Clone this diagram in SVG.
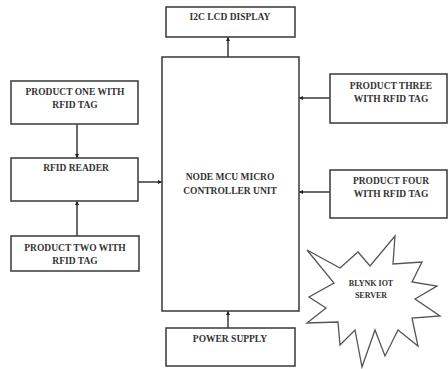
<svg xmlns="http://www.w3.org/2000/svg" width="448" height="369" viewBox="0 0 448 369">
<style>
.box{fill:#fff;stroke:#444;stroke-width:1.6}
.t{font-family:"Liberation Serif","Times New Roman",serif;font-weight:bold;font-size:9.5px;fill:#333;text-anchor:middle}
.c{stroke:#444;stroke-width:1.6;fill:none;marker-end:url(#ah)}
</style>
<defs>
<marker id="ah" viewBox="0 0 6 6" refX="6" refY="3" markerWidth="4" markerHeight="4" orient="auto" markerUnits="userSpaceOnUse">
<path d="M0,0 L6,3 L0,6 z" fill="#222"/>
</marker>
</defs>
<rect width="448" height="369" fill="#fff"/>
<g id="connectors">
<line class="c" x1="228" y1="57" x2="228" y2="37"/>
<line class="c" x1="77" y1="124" x2="77" y2="158"/>
<line class="c" x1="77" y1="236" x2="77" y2="201"/>
<line class="c" x1="138" y1="182" x2="162" y2="182"/>
<line class="c" x1="330" y1="98" x2="299" y2="98"/>
<line class="c" x1="330" y1="192" x2="299" y2="192"/>
<line class="c" x1="228" y1="328" x2="228" y2="311"/>
</g>
<g id="display">
<rect class="box" x="166" y="7" width="129" height="30"/>
<text class="t" x="230" y="19.5">I2C LCD DISPLAY</text>
</g>
<g id="mcu">
<rect class="box" x="162" y="57" width="137" height="254"/>
<text class="t" x="230" y="179.5">NODE MCU MICRO</text>
<text class="t" x="230" y="193.5">CONTROLLER UNIT</text>
</g>
<g id="product-one">
<rect class="box" x="11" y="81" width="127" height="43"/>
<text class="t" x="75" y="94.5">PRODUCT ONE WITH</text>
<text class="t" x="75" y="108">RFID TAG</text>
</g>
<g id="rfid-reader">
<rect class="box" x="11" y="158" width="127" height="43"/>
<text class="t" x="76" y="171">RFID READER</text>
</g>
<g id="product-two">
<rect class="box" x="11" y="236" width="128" height="35"/>
<text class="t" x="75" y="250.5">PRODUCT TWO WITH</text>
<text class="t" x="75" y="263.5">RFID TAG</text>
</g>
<g id="product-three">
<rect class="box" x="330" y="74" width="117" height="49"/>
<text class="t" x="391" y="88.5">PRODUCT THREE</text>
<text class="t" x="391" y="102">WITH RFID TAG</text>
</g>
<g id="product-four">
<rect class="box" x="330" y="170" width="117" height="48"/>
<text class="t" x="391" y="183.5">PRODUCT FOUR</text>
<text class="t" x="391" y="196.5">WITH RFID TAG</text>
</g>
<g id="power-supply">
<rect class="box" x="166" y="328" width="129" height="38"/>
<text class="t" x="230" y="341.5">POWER SUPPLY</text>
</g>
<g id="blynk-server">
<polygon fill="#fff" stroke="#555" stroke-width="1.3" stroke-linejoin="miter" points="307,250 340,268 358,252 370,266 395,236 393,264 422,262 412,282 437,286 415,299 440,316 412,318 418,346 398,330 385,356 375,330 362,367 355,330 340,345 338,322 307,323 326,308 309,297 334,283"/>
<text class="t" x="371" y="286" style="font-size:8px">BLYNK IOT</text>
<text class="t" x="371" y="298" style="font-size:8px">SERVER</text>
</g>
</svg>
